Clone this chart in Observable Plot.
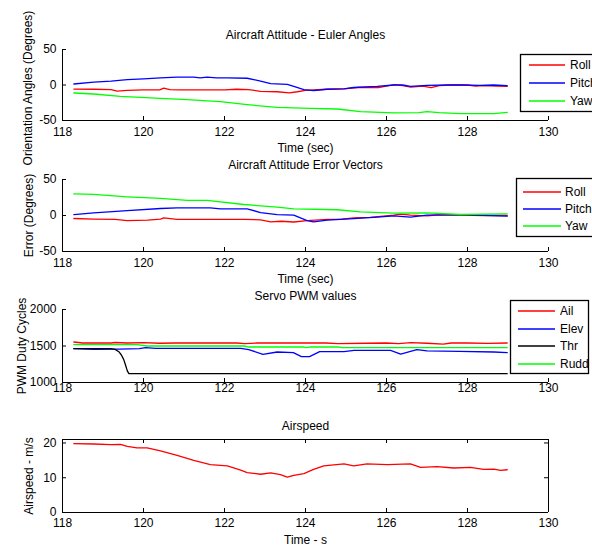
<!DOCTYPE html>
<html><head><meta charset="utf-8">
<script src="https://cdn.jsdelivr.net/npm/d3@7"></script>
<script src="https://cdn.jsdelivr.net/npm/@observablehq/plot@0.6"></script>
<style>
body{margin:0;background:#fff;overflow:hidden;font-family:"Liberation Sans",Arial,sans-serif;}
#root{position:relative;width:592px;height:546px;overflow:hidden;background:#fff;}
</style></head><body><div id="root"></div><script>
// ---------- data ----------
const xTicks = [118, 120, 122, 124, 126, 128, 130];
const angleTicks = [-50, 0, 50];
const pwmTicks = [1000, 1500, 2000];
const speedTicks = [0, 10, 20];

const eulerRoll = [[118.28,-5.7],[118.77,-6],[119.2,-6.5],[119.35,-8.5],[119.6,-7.5],[120.0,-7],[120.4,-6.8],[120.5,-4.5],[120.65,-6.5],[120.9,-7],[121.5,-7],[122.0,-6.8],[122.3,-6],[122.6,-6.5],[122.89,-9],[123.3,-9.5],[123.6,-11],[123.8,-9.5],[124.0,-7.5],[124.5,-6],[125.0,-5],[125.3,-3.5],[125.8,-3.5],[126.0,-1.5],[126.2,0.5],[126.4,-1],[126.6,-3],[126.9,-1.5],[127.1,-3.8],[127.3,-1],[127.6,0],[128.0,0],[128.2,-1.5],[128.4,-1],[128.7,-1.5],[128.98,-2]];
const eulerPitch = [[118.28,1.4],[118.77,4],[119.2,5.5],[119.6,7.5],[120.0,8.5],[120.42,10],[120.83,11],[121.24,11],[121.4,10],[121.57,11],[121.8,10],[122.07,10],[122.56,9.5],[122.89,5.6],[123.14,2],[123.55,1],[123.71,-2],[123.96,-6.6],[124.2,-8],[124.54,-6],[124.95,-5.5],[125.19,-3.5],[125.77,-2],[126.18,0],[126.4,0],[126.59,-2],[127.0,-0.5],[127.5,0],[127.83,0],[128.3,-0.5],[128.65,0],[128.98,-1]];
const eulerYaw = [[118.28,-11.3],[118.77,-12.7],[119.43,-16],[120.42,-18.8],[121.08,-20.7],[121.9,-23.5],[122.56,-27.7],[123.3,-31.5],[124.12,-32.9],[124.78,-33.8],[125.36,-37.6],[126.18,-39.4],[126.8,-39],[127.0,-37.6],[127.3,-39],[127.83,-40.4],[128.65,-40.4],[128.98,-38.5]];

const errRoll = [[118.28,-4.2],[118.77,-5.1],[119.3,-5.5],[119.6,-7],[120.1,-6.5],[120.42,-5],[120.5,-3.3],[120.83,-5.5],[121.65,-5.5],[122.5,-5.5],[122.89,-6],[123.14,-8.9],[123.4,-8],[123.71,-9],[124.04,-7],[124.54,-5.5],[124.9,-5],[125.19,-3.3],[125.6,-2.5],[126.18,0.4],[126.35,2],[126.59,0.4],[127.0,-0.5],[127.3,1],[127.83,0.4],[128.4,0],[128.98,0]];
const errPitch = [[118.28,1.3],[118.77,3.7],[119.6,6.9],[120.42,9.7],[120.83,10.6],[121.65,10.6],[121.9,9.3],[122.56,9.3],[122.89,4.1],[123.3,1.3],[123.71,0.4],[124.04,-7],[124.2,-8.9],[124.54,-6.5],[125.19,-4.2],[125.77,-2.3],[126.18,-0.5],[126.59,-2.3],[127.0,0.4],[127.83,1.3],[128.98,-1]];
const errYaw = [[118.28,30],[118.77,29.3],[119.6,26],[120.42,23.7],[121.08,21],[121.57,21],[122.48,15.3],[123.3,11.6],[123.71,9.3],[124.78,8],[125.36,5.1],[126.18,3.2],[127.0,3.7],[127.83,1.4],[128.98,2.3]];

const pwmAil = [[118.28,1555],[118.5,1541],[119.2,1541],[119.3,1548],[119.6,1541],[120.0,1545],[120.4,1538],[120.8,1541],[121.5,1541],[122.3,1541],[122.5,1532],[122.8,1541],[123.5,1541],[124.5,1541],[124.8,1532],[125.5,1538],[126.0,1541],[126.3,1532],[126.6,1545],[127.0,1538],[127.4,1527],[127.6,1541],[128.0,1541],[128.5,1535],[128.98,1541]];
const pwmElev = [[118.28,1463],[118.77,1454],[119.4,1458],[119.9,1463],[120.05,1477],[120.3,1468],[122.4,1468],[122.6,1450],[122.95,1385],[123.3,1418],[123.7,1410],[123.9,1354],[124.1,1354],[124.35,1422],[124.95,1422],[125.2,1440],[126.1,1440],[126.35,1390],[126.75,1450],[127.0,1432],[127.8,1425],[128.65,1418],[128.98,1409]];
const pwmThr = [[118.28,1463],[119.19,1463],[119.3,1454],[119.39,1422],[119.45,1380],[119.51,1317],[119.55,1250],[119.6,1160],[119.64,1121],[128.98,1121]];
const pwmRudd = [[118.28,1520],[119.84,1520],[120.09,1500],[122.48,1500],[122.6,1486],[123.96,1486],[124.0,1477],[124.1,1486],[124.83,1486],[124.9,1477],[128.98,1477]];

const airspeed = [[118.28,19.8],[118.77,19.7],[119.19,19.5],[119.43,19.6],[119.6,19.0],[119.84,18.6],[120.09,18.6],[120.42,17.7],[120.83,16.4],[121.24,15.0],[121.65,13.8],[122.07,13.4],[122.4,12.2],[122.56,11.5],[122.89,11.0],[123.14,11.4],[123.38,10.9],[123.55,10.2],[123.71,10.7],[123.96,11.2],[124.2,12.4],[124.45,13.4],[124.95,14.0],[125.19,13.4],[125.52,14.0],[126.02,13.8],[126.59,14.0],[126.84,13.0],[127.25,13.2],[127.66,12.8],[128.07,13.0],[128.4,12.4],[128.65,12.5],[128.82,12.1],[128.98,12.3]];

// ---------- drawing ----------
const root = document.getElementById("root");
const W = 592, ML = 62, MR = 44, TL = 4;
const FONT = "'Liberation Sans', Arial, sans-serif";

function panel(o) {
  const fh = o.height - o.marginTop - o.marginBottom;
  const fw = W - ML - MR;
  const marks = [];
  marks.push(Plot.ruleX([xTicks[0]], {stroke: "#000"}));
  marks.push(Plot.ruleY([o.yDomain[0]], {stroke: "#000"}));
  if (o.box) {
    marks.push(Plot.ruleX([xTicks[xTicks.length - 1]], {stroke: "#000"}));
    marks.push(Plot.ruleY([o.yDomain[1]], {stroke: "#000"}));
  }
  marks.push(Plot.ruleX(xTicks, {insetTop: fh - TL, stroke: "#000"}));
  marks.push(Plot.ruleY(o.yTicks, {insetRight: fw - TL, stroke: "#000"}));
  if (o.box) {
    marks.push(Plot.ruleX(xTicks, {insetBottom: fh - TL, stroke: "#000"}));
    marks.push(Plot.ruleY(o.yTicks, {insetLeft: fw - TL, stroke: "#000"}));
  }
  for (const s of o.series) {
    marks.push(Plot.line(s.data, {x: d => d[0], y: d => d[1], stroke: s.color, strokeWidth: 1.3}));
  }
  marks.push(Plot.axisX({ticks: xTicks, tickSize: 0, tickPadding: o.xPad, tickFormat: d => String(d), label: null}));
  marks.push(Plot.axisY({ticks: o.yTicks, tickSize: 0, tickPadding: 6, tickFormat: d => String(d), label: null}));
  const T = {textAnchor: "middle", lineAnchor: "middle", fill: "#000"};
  marks.push(Plot.text([o.title], {...T, text: d => d, frameAnchor: "top", dy: o.titleDy}));
  if (o.xLabel) marks.push(Plot.text([o.xLabel], {...T, text: d => d, frameAnchor: "bottom", dy: o.xLabelDy}));
  marks.push(Plot.text([o.yLabel], {...T, text: d => d, frameAnchor: "left", rotate: -90, dx: o.yLabelX - ML, dy: o.yLabelDy || 0}));

  const svg = Plot.plot({
    width: W, height: o.height,
    marginLeft: ML, marginRight: MR, marginTop: o.marginTop, marginBottom: o.marginBottom,
    x: {domain: [118, 130]},
    y: {domain: o.yDomain},
    style: {fontFamily: FONT, fontSize: "12px", background: "transparent", overflow: "visible", color: "#000"},
    marks
  });
  svg.style.position = "absolute";
  svg.style.top = o.top + "px";
  svg.style.left = "0px";
  root.appendChild(svg);
}

function legend(o) {
  const svg = d3.create("svg")
    .attr("width", o.width + 2).attr("height", o.height + 2)
    .style("position", "absolute").style("left", (o.left - 1) + "px").style("top", (o.top - 1) + "px")
    .style("font-family", FONT).style("font-size", "12px");
  svg.append("rect").attr("x", 1.5).attr("y", 1.5).attr("width", o.width - 1).attr("height", o.height - 1)
    .attr("fill", "#fff").attr("stroke", "#000").attr("stroke-width", 1.3);
  o.entries.forEach((e, i) => {
    const y = o.rows[i] - o.top + 1;
    svg.append("line").attr("x1", o.lx1 - o.left + 1).attr("x2", o.lx2 - o.left + 1)
      .attr("y1", y).attr("y2", y).attr("stroke", e.color).attr("stroke-width", 1.6);
    svg.append("text").attr("x", o.tx - o.left + 1).attr("y", y).attr("dy", "0.35em").attr("fill", "#000").text(e.name);
  });
  root.appendChild(svg.node());
}

panel({top: 0, height: 155, marginTop: 49, marginBottom: 35, yDomain: [-50, 50], yTicks: angleTicks,
  series: [{data: eulerRoll, color: "#ff0000"}, {data: eulerPitch, color: "#0000ff"}, {data: eulerYaw, color: "#00ff00"}],
  title: "Aircraft Attitude - Euler Angles", titleDy: -14, xLabel: "Time (sec)", xLabelDy: 28, xPad: 7,
  yLabel: "Orientation Angles (Degrees)", yLabelX: 28, yLabelDy: 3});
panel({top: 155, height: 130, marginTop: 24, marginBottom: 34, yDomain: [-50, 50], yTicks: angleTicks,
  series: [{data: errRoll, color: "#ff0000"}, {data: errPitch, color: "#0000ff"}, {data: errYaw, color: "#00ff00"}],
  title: "Aircraft Attitude Error Vectors", titleDy: -14, xLabel: "Time (sec)", xLabelDy: 28, xPad: 7,
  yLabel: "Error (Degrees)", yLabelX: 29});
panel({top: 285, height: 120, marginTop: 24, marginBottom: 23, yDomain: [1000, 2000], yTicks: pwmTicks,
  series: [{data: pwmAil, color: "#ff0000"}, {data: pwmElev, color: "#0000ff"}, {data: pwmThr, color: "#000000"}, {data: pwmRudd, color: "#00ff00"}],
  title: "Servo PWM values", titleDy: -13, xLabel: null, xPad: 1,
  yLabel: "PWM Duty Cycles", yLabelX: 22});
panel({top: 405, height: 141, marginTop: 34, marginBottom: 34, yDomain: [0, 21], yTicks: speedTicks,
  series: [{data: airspeed, color: "#ff0000"}],
  title: "Airspeed", titleDy: -13, xLabel: "Time - s", xLabelDy: 28, xPad: 6, box: true,
  yLabel: "Airspeed - m/s", yLabelX: 29});

legend({left: 520, top: 54, width: 100, height: 58, lx1: 529, lx2: 565, tx: 570, rows: [65, 83, 101],
  entries: [{name: "Roll", color: "#ff0000"}, {name: "Pitch", color: "#0000ff"}, {name: "Yaw", color: "#00ff00"}]});
legend({left: 516, top: 178, width: 100, height: 59, lx1: 523, lx2: 561, tx: 565, rows: [192, 209, 226],
  entries: [{name: "Roll", color: "#ff0000"}, {name: "Pitch", color: "#0000ff"}, {name: "Yaw", color: "#00ff00"}]});
legend({left: 510, top: 300, width: 79, height: 74, lx1: 518, lx2: 555, tx: 560, rows: [311, 329, 346, 364],
  entries: [{name: "Ail", color: "#ff0000"}, {name: "Elev", color: "#0000ff"}, {name: "Thr", color: "#000000"}, {name: "Rudd", color: "#00ff00"}]});
</script></body></html>
